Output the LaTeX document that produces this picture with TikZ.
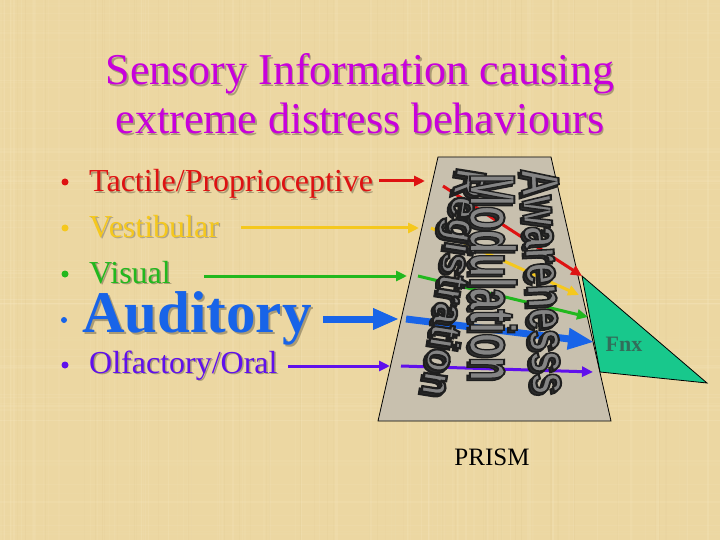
\documentclass[tikz,border=0pt]{standalone}
\usepackage{fontspec}
\usepackage{graphicx}
\setmainfont{Liberation Serif}
\newfontfamily\wafont{Liberation Sans}
\usetikzlibrary{arrows.meta}
\definecolor{bg}{RGB}{236,215,162}
\definecolor{bglight}{RGB}{248,234,196}
\definecolor{bgdark}{RGB}{214,190,130}
\definecolor{prismfill}{RGB}{200,192,174}
\definecolor{fnxgreen}{RGB}{24,200,140}
\definecolor{fnxtext}{RGB}{50,110,90}
\definecolor{ttl}{RGB}{200,0,220}
\definecolor{cred}{RGB}{222,18,18}
\definecolor{cyel}{RGB}{245,200,30}
\definecolor{cgrn}{RGB}{34,184,30}
\definecolor{cblu}{RGB}{24,100,232}
\definecolor{cpur}{RGB}{96,16,236}
\definecolor{wagray}{RGB}{132,132,132}
\definecolor{wadark}{RGB}{45,45,45}
\newcommand\outl[1]{\special{pdf:literal direct 2 Tr 2 w 0.12 0.12 0.12 RG}#1\special{pdf:literal direct 0 Tr}}
\newcommand\waReg{\resizebox{230pt}{31pt}{\fontsize{36}{36}\selectfont\wafont\bfseries\outl{Registration}}}
\newcommand\waMod{\resizebox{207pt}{47pt}{\fontsize{64}{64}\selectfont\wafont\bfseries\outl{Modulation}}}
\newcommand\waAwa{\resizebox{226pt}{37pt}{\fontsize{50}{50}\selectfont\wafont\bfseries\outl{Awarenesss}}}
\tikzset{
  ttlstyle/.style={font=\fontsize{44}{44}\selectfont, inner sep=0pt},
  itemstyle/.style={font=\fontsize{32}{32}\selectfont, inner sep=0pt, anchor=base west},
  shadowtxt/.style={text=black, opacity=0.28},
  bulletdot/.style={circle, inner sep=0pt, minimum size=7pt},
  arr/.style={line width=3pt, -{Triangle[length=11pt,width=10pt]}},
  bigarr/.style={line width=7pt, -{Triangle[length=26pt,width=20pt]}},
  wa/.style={inner sep=0pt},
}
\begin{document}
\begin{tikzpicture}[x=1pt,y=-1pt]
\fill[bg] (0,0) rectangle (720,540);
\useasboundingbox (0,0) rectangle (720,540);
% texture
\pgfmathsetseed{11}
\foreach \i in {1,...,90}{
  \pgfmathsetmacro\xx{rnd*720}
  \pgfmathsetmacro\ww{0.6+rnd*1.4}
  \pgfmathsetmacro\oo{0.06+rnd*0.16}
  \draw[bglight, line width=\ww pt, opacity=\oo] (\xx,0) -- (\xx,540);
}
\foreach \i in {1,...,70}{
  \pgfmathsetmacro\yy{rnd*540}
  \pgfmathsetmacro\ww{0.6+rnd*1.2}
  \pgfmathsetmacro\oo{0.05+rnd*0.14}
  \draw[bglight, line width=\ww pt, opacity=\oo] (0,\yy) -- (720,\yy);
}
\foreach \i in {1,...,50}{
  \pgfmathsetmacro\xx{rnd*720}
  \pgfmathsetmacro\oo{0.04+rnd*0.1}
  \draw[bgdark, line width=0.8pt, opacity=\oo] (\xx,0) -- (\xx,540);
}

% title
\node[ttlstyle, shadowtxt, anchor=base] at (361.5,86.5) {Sensory Information causing};
\node[ttlstyle, text=ttl, anchor=base] (t1) at (360,85) {Sensory Information causing};
\node[ttlstyle, shadowtxt, anchor=base] at (361.5,135.5) {extreme distress behaviours};
\node[ttlstyle, text=ttl, anchor=base] (t2) at (360,134) {extreme distress behaviours};

% prism
\draw[fill=prismfill, line width=0.8pt] (438,157) coordinate (p1) -- (551,157) coordinate (p2)
  -- (611,421) coordinate (p3) -- (378,421) coordinate (p4) -- cycle;
% triangle
\draw[fill=fnxgreen, line width=0.8pt] (582,276) coordinate (f1) -- (707,383) coordinate (f2)
  -- (600,372) coordinate (f3) -- cycle;

% inner arrows
\coordinate (ri) at (443,186); \coordinate (re) at (582,276);
\coordinate (yi) at (431,228); \coordinate (ye) at (579,295);
\coordinate (gi) at (418,276); \coordinate (ge) at (588,317);
\coordinate (bi) at (406,319); \coordinate (be) at (594,342);
\coordinate (ui) at (401,366); \coordinate (ue) at (593,372);
\draw[arr, cred] (ri) -- (re);
\draw[arr, cyel] (yi) -- (ye);
\draw[arr, cgrn] (gi) -- (ge);
\draw[bigarr, cblu] (bi) -- (be);
\draw[arr, cpur] (ui) -- (ue);

% word art (extrusion shadow, then outlined gray face)
\node[wa, rotate=-99, text=wadark] at (447.5,284.5) {\waReg};
\node[wa, rotate=-90, text=wadark] at (490.5,279.5) {\waMod};
\node[wa, rotate=-87, text=wadark] at (542.5,283.5) {\waAwa};
\node[wa, rotate=-99, text=wagray] (reg) at (450,282) {\waReg};
\node[wa, rotate=-90, text=wagray] (mod) at (493,277) {\waMod};
\node[wa, rotate=-87, text=wagray] (awa) at (545,281) {\waAwa};

% left items
\node[itemstyle, shadowtxt] at (90.5,193.5) {Tactile/Proprioceptive};
\node[itemstyle, text=cred] (tac) at (89,192) {Tactile/Proprioceptive};
\node[itemstyle, text=black!55, opacity=0.5] at (90.5,238.5) {Vestibular};
\node[itemstyle, text=cyel] (ves) at (89,237) {Vestibular};
\node[itemstyle, shadowtxt] at (90.5,284.5) {Visual};
\node[itemstyle, text=cgrn] (vis) at (89,283) {Visual};
\node[itemstyle, shadowtxt, font=\fontsize{59}{59}\selectfont\bfseries] at (84,334) {Auditory};
\node[itemstyle, text=cblu, font=\fontsize{59}{59}\selectfont\bfseries] (aud) at (82,332) {Auditory};
\node[itemstyle, shadowtxt] at (90.5,374.5) {Olfactory/Oral};
\node[itemstyle, text=cpur] (olf) at (89,373) {Olfactory/Oral};

% bullets
\node[bulletdot, fill=cred] (b1) at (65,182) {};
\node[bulletdot, fill=cyel] (b2) at (65,228) {};
\node[bulletdot, fill=cgrn] (b3) at (65,274) {};
\node[bulletdot, fill=cblu, minimum size=6pt] (b4) at (64,320) {};
\node[bulletdot, fill=cpur] (b5) at (65,365) {};

% left arrows
\coordinate (ra) at (379,181); \coordinate (rb) at (425,181);
\coordinate (ya) at (241,228); \coordinate (yb) at (419,228);
\coordinate (ga) at (204,276); \coordinate (gb) at (407,276);
\coordinate (ba) at (323,319); \coordinate (bb) at (399,319);
\coordinate (ua) at (288,366); \coordinate (ub) at (390,366);
\draw[arr, cred] (ra) -- (rb);
\draw[arr, cyel] (ya) -- (yb);
\draw[arr, cgrn] (ga) -- (gb);
\draw[bigarr, cblu] (ba) -- (bb);
\draw[arr, cpur] (ua) -- (ub);

% labels
\node[font=\fontsize{22}{22}\selectfont\bfseries, text=fnxtext, inner sep=0pt] (fnx) at (624,344) {Fnx};
\node[font=\fontsize{25}{25}\selectfont, anchor=base, inner sep=0pt] (prism) at (492,465) {PRISM};
\end{tikzpicture}
\end{document}
